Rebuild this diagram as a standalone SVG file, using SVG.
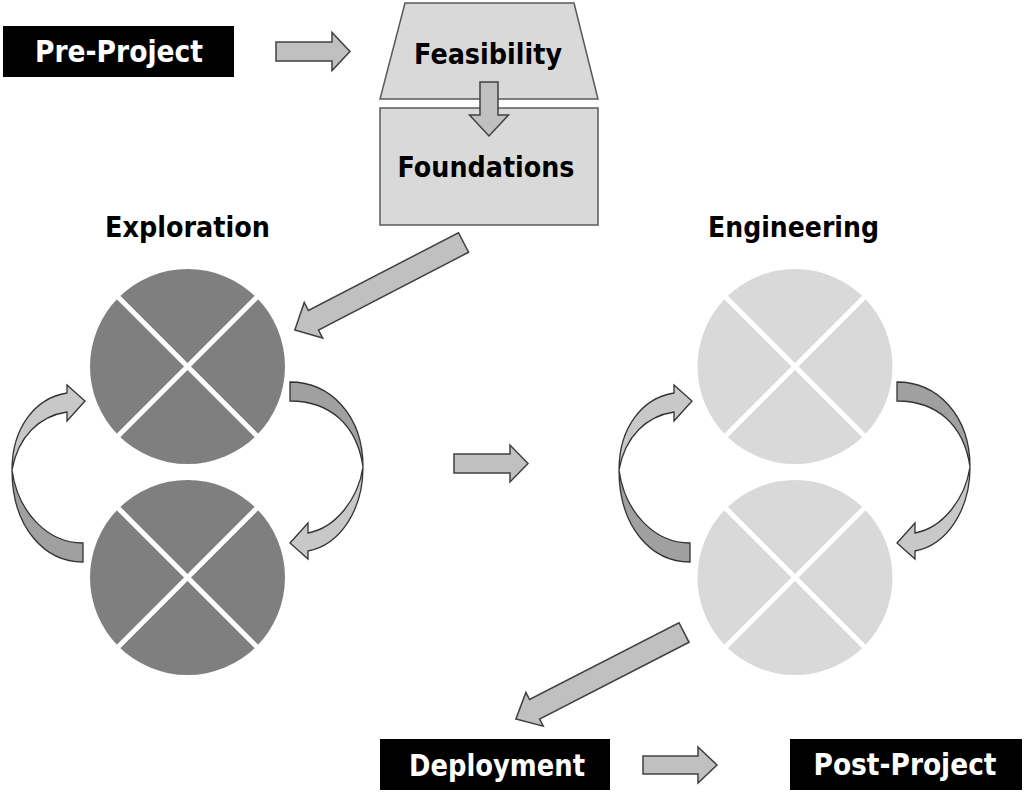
<svg xmlns="http://www.w3.org/2000/svg" width="1024" height="793" viewBox="0 0 1024 793">
<style>
.lbl{font-family:"DejaVu Sans","Liberation Sans",sans-serif;font-weight:bold;text-anchor:middle}
.wt{fill:#ffffff;font-size:30px}
.bk{fill:#000000;font-size:29px}
.blk{fill:#000000}
.box{fill:#d9d9d9;stroke:#595959;stroke-width:1.5}
.arr{fill:#c0c0c0;stroke:#404040;stroke-width:1.5;stroke-linejoin:miter}
.dk{fill:#7f7f7f}
.lt{fill:#d9d9d9}
.cross{stroke:#ffffff;stroke-width:5;fill:none}
.cdark{fill:#a0a0a0;stroke:#333333;stroke-width:1.3}
.clight{fill:#c8c8c8;stroke:#333333;stroke-width:1.3}
</style>
<defs>
<g id="cx">
<line class="cross" x1="-75" y1="-75" x2="75" y2="75"/>
<line class="cross" x1="-75" y1="75" x2="75" y2="-75"/>
</g>
<g id="loop">
<path class="cdark" d="M83 543 L83 562 C45 562 12 528 12 470 C18 513 48 543 83 543 Z"/>
<path class="clight" d="M12 470 C12 428 35 398 67 393 L67 385 L85 401 L67 421 L67 412 C40 416 18 436 12 470 Z"/>
<path class="cdark" d="M290 382 C330 382 363 415 363 467 C357 425 330 401 290 401 Z"/>
<path class="clight" d="M363 467 C363 510 340 545 308 551 L308 559 L290 543 L308 523 L308 533 C335 528 358 500 363 467 Z"/>
</g>
</defs>
<rect width="1024" height="793" fill="#ffffff"/>

<g id="pre-project">
<rect class="blk" x="3" y="26" width="231" height="51"/>
<text class="lbl wt" x="119" y="62" textLength="168" lengthAdjust="spacingAndGlyphs">Pre-Project</text>
</g>

<g id="feasibility">
<polygon class="box" points="405,3 574,3 598,99 380,99"/>
<text class="lbl bk" x="488" y="64" textLength="148" lengthAdjust="spacingAndGlyphs">Feasibility</text>
</g>

<g id="foundations">
<rect class="box" x="380" y="108" width="218" height="117"/>
<text class="lbl bk" x="486" y="177" textLength="177" lengthAdjust="spacingAndGlyphs">Foundations</text>
</g>

<g id="exploration">
<text class="lbl bk" x="187.5" y="237" font-size="28" textLength="165" lengthAdjust="spacingAndGlyphs">Exploration</text>
<circle class="dk" cx="187.5" cy="366.5" r="97.5"/>
<use href="#cx" x="187.5" y="366.5"/>
<circle class="dk" cx="187.5" cy="577.5" r="97.5"/>
<use href="#cx" x="187.5" y="577.5"/>
<use href="#loop"/>
</g>

<g id="engineering">
<text class="lbl bk" x="793.5" y="237" font-size="28" textLength="171" lengthAdjust="spacingAndGlyphs">Engineering</text>
<circle class="lt" cx="795" cy="366.5" r="97.5"/>
<use href="#cx" x="795" y="366.5"/>
<circle class="lt" cx="795" cy="577.5" r="97.5"/>
<use href="#cx" x="795" y="577.5"/>
<use href="#loop" x="607"/>
</g>

<g id="deployment">
<rect class="blk" x="380" y="739" width="230" height="51"/>
<text class="lbl wt" x="497" y="776" textLength="176" lengthAdjust="spacingAndGlyphs">Deployment</text>
</g>

<g id="post-project">
<rect class="blk" x="790" y="739" width="232" height="51"/>
<text class="lbl wt" x="905" y="775" textLength="183" lengthAdjust="spacingAndGlyphs">Post-Project</text>
</g>

<g id="connectors">
<path class="arr" transform="translate(276,51.5)" d="M0,-9.5 H56 V-19 L74,0 L56,19 V9.5 H0 Z"/>
<path class="arr" transform="translate(489,82) rotate(90)" d="M0,-9 H33 V-19.5 L54,0 L33,19.5 V9 H0 Z"/>
<path class="arr" transform="translate(463.5,242.5) rotate(152.6)" d="M0,-11 H169 V-20 L190,0 L169,20 V11 H0 Z"/>
<path class="arr" transform="translate(454,463.5)" d="M0,-9.5 H56 V-18.5 L74,0 L56,18.5 V9.5 H0 Z"/>
<path class="arr" transform="translate(684,632.5) rotate(152.8)" d="M0,-11 H168 V-19 L189,0 L168,19 V11 H0 Z"/>
<path class="arr" transform="translate(643,765)" d="M0,-9 H55 V-18 L74,0 L55,18 V9 H0 Z"/>
</g>
</svg>
